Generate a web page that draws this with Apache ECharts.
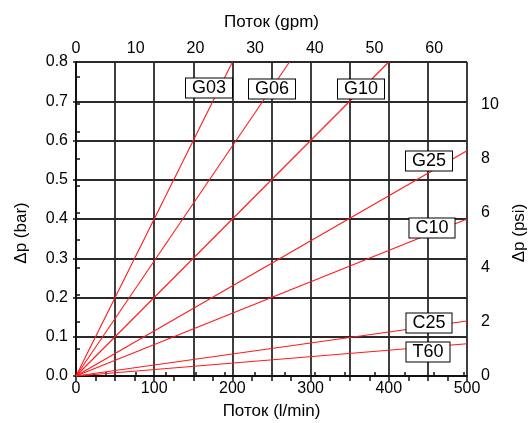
<!DOCTYPE html>
<html>
<head>
<meta charset="utf-8">
<script src="https://cdn.jsdelivr.net/npm/echarts@6/dist/echarts.min.js"></script>
<style>
  html, body { margin: 0; padding: 0; background: #fff; }
  #chart { width: 529px; height: 423px; }
</style>
</head>
<body>
<div id="chart"></div>
<script>
// filter types and where each straight characteristic ends (flow l/min, Δp bar)
const filterNames = ['G03', 'G06', 'G10', 'G25', 'C10', 'C25', 'T60']
const endFlow = [200, 273, 400, 500, 500, 500, 500]
const endDp = [0.8, 0.8, 0.8, 0.574, 0.4, 0.14, 0.082]

// axis ranges
const flowMax = 500      // l/min
const gpmMax = 65.5      // same width in gpm
const barMax = 0.8
const psiMax = 11.55

// label box centres (px)
const labelAt = [
  [209, 88], [272, 89], [361, 89], [429, 161], [432, 228], [429, 323], [428, 352]
]

const FONT = 'Liberation Sans, Arial, sans-serif'
const lineBlack = { color: '#111', width: 1.5 }
const gridGrey = { color: '#2a2a2a', width: 1.8 }

const chart = echarts.init(document.getElementById('chart'))

const series = filterNames.map((name, i) => ({
  name,
  type: 'line',
  xAxisIndex: 0,
  yAxisIndex: 0,
  data: [[0, 0], [endFlow[i], endDp[i]]],
  symbol: 'none',
  lineStyle: { color: '#ff1a1a', width: 1.1 },
  silent: true,
  z: 3,
}))

const labels = filterNames.map((name, i) => ({
  type: 'text',
  x: labelAt[i][0],
  y: labelAt[i][1],
  z: 100,
  style: {
    text: name,
    font: '18px ' + FONT,
    fill: '#000',
    align: 'center',
    verticalAlign: 'middle',
    backgroundColor: '#fff',
    borderColor: '#000',
    borderWidth: 1,
    padding: [1, 6, 0, 6],
  },
}))

chart.setOption({
  animation: false,
  textStyle: { fontFamily: FONT },
  grid: { left: 76, right: 62, top: 62, bottom: 47, outerBoundsMode: 'none', containLabel: false },
  xAxis: [
    {
      type: 'value', position: 'bottom', min: 0, max: flowMax, interval: 50,
      name: 'Поток (l/min)', nameLocation: 'middle', nameGap: 27,
      nameTextStyle: { fontSize: 17, color: '#000' },
      axisLine: { lineStyle: lineBlack },
      axisTick: { length: 5, lineStyle: lineBlack },
      minorTick: { show: true, splitNumber: 2, length: 5, lineStyle: lineBlack },
      axisLabel: { fontSize: 16, color: '#000', margin: 5,
        formatter: v => (v % 100 === 0 ? v : '') },
      splitLine: { show: true, lineStyle: gridGrey },
    },
    {
      type: 'value', position: 'top', min: 0, max: gpmMax, interval: 5,
      name: 'Поток (gpm)', nameLocation: 'middle', nameGap: 31,
      nameTextStyle: { fontSize: 17, color: '#000' },
      axisLine: { lineStyle: lineBlack },
      axisTick: { length: 4, lineStyle: lineBlack },
      axisLabel: { fontSize: 16, color: '#000', margin: 5, showMaxLabel: false,
        formatter: v => (v % 10 === 0 ? v : '') },
      splitLine: { show: false },
    },
  ],
  yAxis: [
    {
      type: 'value', position: 'left', min: 0, max: barMax, interval: 0.1,
      name: 'Δp (bar)', nameLocation: 'middle', nameRotate: 90, nameGap: 46,
      nameTextStyle: { fontSize: 17, color: '#000', padding: [0, 28, 0, 0] },
      axisLine: { lineStyle: lineBlack },
      axisTick: { length: 3, lineStyle: lineBlack },
      axisLabel: { fontSize: 16, color: '#000', margin: 8,
        formatter: v => v.toFixed(1) },
      splitLine: { show: true, lineStyle: gridGrey },
    },
    {
      type: 'value', position: 'right', min: 0, max: psiMax, interval: 1,
      name: 'Δp (psi)', nameLocation: 'middle', nameRotate: 90, nameGap: 44,
      nameTextStyle: { fontSize: 17, color: '#000', padding: [0, 28, 0, 0] },
      axisLine: { lineStyle: lineBlack },
      axisTick: { length: 4, lineStyle: lineBlack },
      axisLabel: { fontSize: 16, color: '#000', margin: 14, showMaxLabel: false,
        formatter: v => (v % 2 === 0 ? v : '') },
      splitLine: { show: false },
    },
  ],
  series,
  graphic: labels,
})
</script>
</body>
</html>
